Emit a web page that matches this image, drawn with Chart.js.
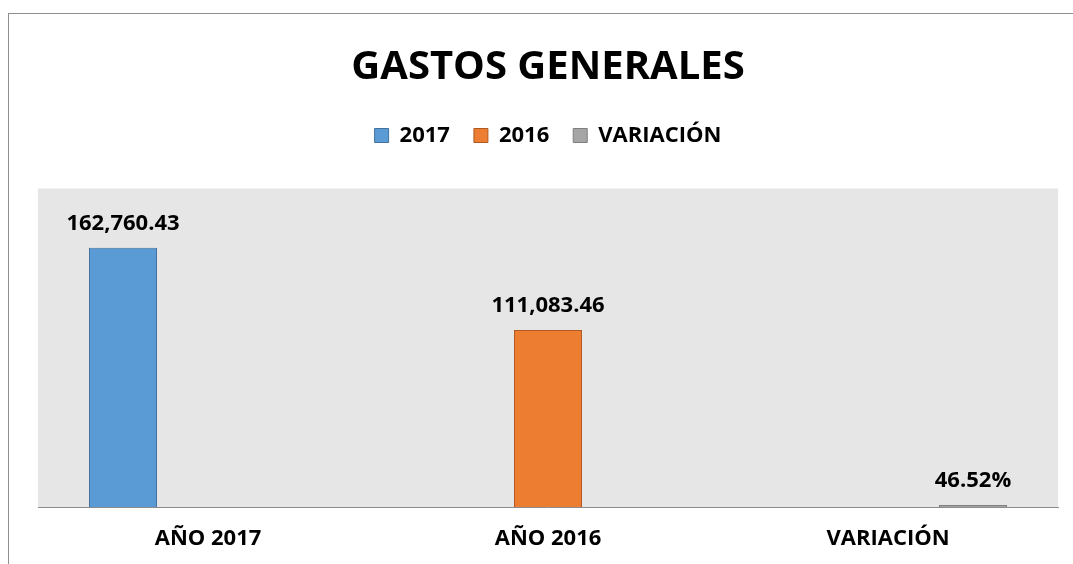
<!DOCTYPE html>
<html>
<head>
<meta charset="utf-8">
<script src="https://cdn.jsdelivr.net/npm/chart.js@4"></script>
<style>
  html, body { margin: 0; padding: 0; background: #fff; overflow: hidden; }
  #wrap { position: relative; width: 1073px; height: 564px; }
  #frame { position: absolute; left: 8px; top: 13px; right: 0; bottom: 0;
           border-left: 1px solid #8f8f8f; border-top: 1px solid #8f8f8f; }
  canvas { position: absolute; left: 0; top: 0; }
</style>
</head>
<body>
<div id="wrap">
  <div id="frame"></div>
  <canvas id="gastosChart"></canvas>
</div>
<script>
const categories = ["AÑO 2017", "AÑO 2016", "VARIACIÓN"];
const values2017 = [162760.43, null, null];
const values2016 = [null, 111083.46, null];
const valuesVariacion = [null, null, 46.52];
const yTicks = { min: 0, max: 200000 };

Chart.defaults.font.family = "'Open Sans', sans-serif";
Chart.defaults.color = "#000";

// gray plot background
const plotBg = {
  id: "plotBg",
  beforeDraw(chart) {
    const a = chart.chartArea;
    const c = chart.ctx;
    c.save();
    c.fillStyle = "#e7e6e6";
    c.fillRect(a.left, a.top, a.right - a.left, a.bottom - a.top);
    c.restore();
  }
};

// value labels above the bars
const barLabels = {
  id: "barLabels",
  afterDatasetsDraw(chart) {
    const c = chart.ctx;
    c.save();
    c.font = "bold 22px 'Open Sans', sans-serif";
    c.fillStyle = "#000";
    c.textAlign = "center";
    c.textBaseline = "alphabetic";
    chart.data.datasets.forEach((ds, i) => {
      chart.getDatasetMeta(i).data.forEach((bar, j) => {
        const v = ds.data[j];
        if (v == null) return;
        let txt = v.toLocaleString("en-US", { minimumFractionDigits: 2, maximumFractionDigits: 2 });
        if (ds.isPercent) txt += "%";
        c.fillText(txt, bar.x, bar.y - 18);
      });
    });
    c.restore();
  }
};

const ctx = document.getElementById("gastosChart").getContext("2d");

const chart = new Chart(ctx, {
  type: "bar",
  data: {
    labels: categories,
    datasets: [
      { label: "2017", data: values2017, backgroundColor: "#5b9bd5", borderColor: "#41719c", borderWidth: 1 },
      { label: "2016", data: values2016, backgroundColor: "#ed7d31", borderColor: "#ae5a21", borderWidth: 1 },
      { label: "VARIACIÓN", data: valuesVariacion, backgroundColor: "#a5a5a5", borderColor: "#7f7f7f",
        borderWidth: 1, minBarLength: 2, isPercent: true }
    ]
  },
  options: {
    responsive: true,
    maintainAspectRatio: false,
    animation: false,
    categoryPercentage: 0.75,
    barPercentage: 0.8,
    layout: { padding: { top: 0, left: 38, right: 15, bottom: 0 } },
    scales: {
      x: {
        grid: { display: false, drawTicks: false },
        border: { display: true, color: "#8c8c8c", width: 1 },
        ticks: { font: { size: 22, weight: "bold" }, color: "#000", padding: 18.5, maxRotation: 0 },
        afterFit(scale) { scale.height = 57; }
      },
      y: {
        display: false,
        min: yTicks.min,
        max: yTicks.max
      }
    },
    plugins: {
      title: {
        display: true,
        text: "GASTOS GENERALES",
        font: { size: 40, weight: "bold" },
        color: "#000",
        padding: { top: 44, bottom: 8.5 }
      },
      legend: {
        display: true,
        position: "top",
        weight: 1750,
        labels: {
          boxWidth: 14,
          boxHeight: 14,
          padding: 24,
          font: { size: 22, weight: "bold" },
          color: "#000"
        }
      },
      subtitle: {
        display: true,
        text: "",
        font: { size: 10 },
        padding: { top: 20, bottom: 0 }
      },
      tooltip: { enabled: false }
    }
  },
  plugins: [plotBg, barLabels]
});
</script>
</body>
</html>
